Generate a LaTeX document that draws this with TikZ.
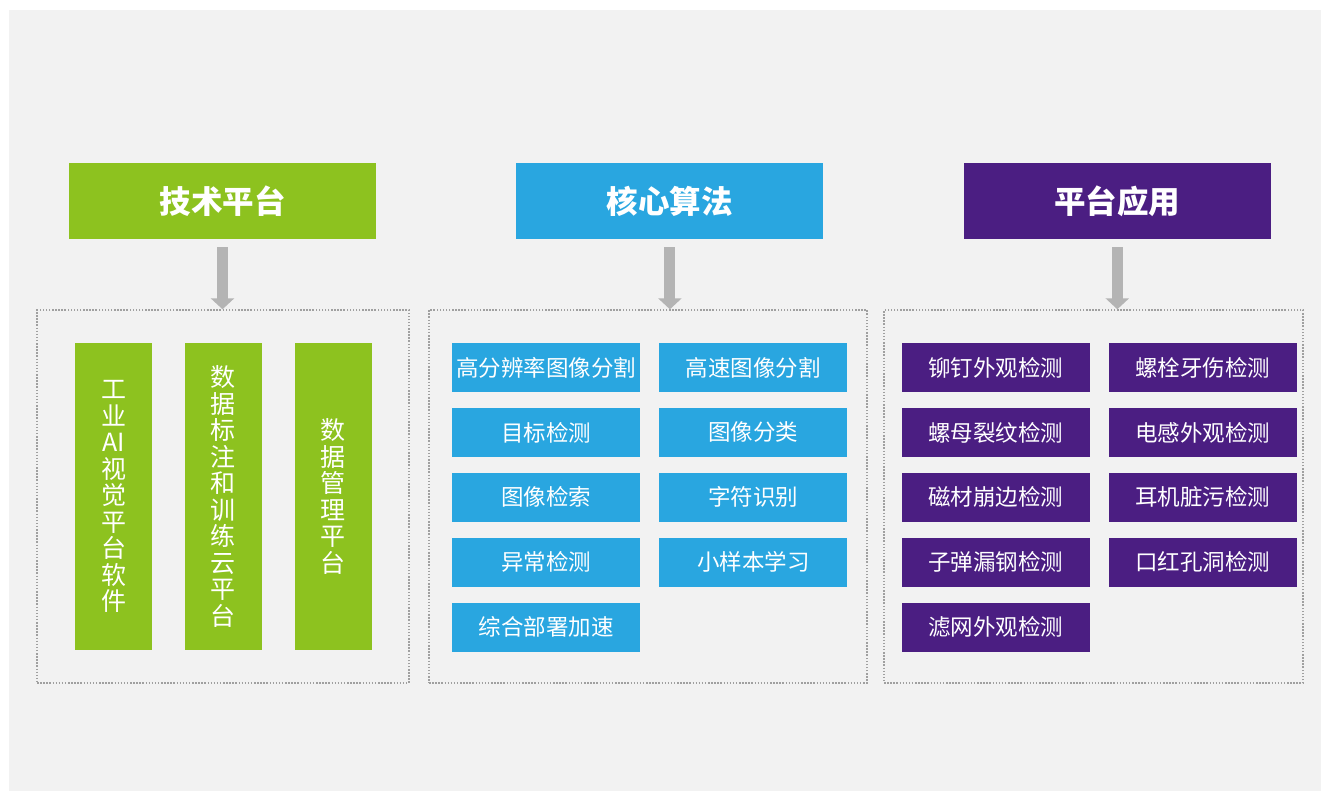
\documentclass[tikz,border=0pt]{standalone}
\usepackage{fontspec}
\setmainfont{Noto Sans CJK SC}
\usepackage{xcolor}
\usepackage{tikz}
\usetikzlibrary{
    arrows.meta,
    positioning
}
\definecolor{techgreen}{HTML}{8DC21F}
\definecolor{algoblue}{HTML}{29A6E0}
\definecolor{apppurple}{HTML}{4B1E82}
\definecolor{backgray}{HTML}{F2F2F2}
\definecolor{framegray}{HTML}{A0A0A0}
\definecolor{arrowgray}{HTML}{B4B4B4}
\tikzstyle{head} = [
    rectangle,
    minimum width=307pt,
    minimum height=76pt,
    inner sep=0pt,
    text centered,
    text=white,
    font=\fontsize{31.5}{36}\selectfont\bfseries
]
\tikzstyle{group} = [
    rectangle,
    draw=framegray,
    line width=1.4pt,
    dash pattern=on 1.5pt off 1.6pt,
    minimum height=373pt
]
\tikzstyle{arrow} = [
    draw=arrowgray,
    line width=11pt,
    -{Triangle[width=23pt,length=11pt]}
]

\begin{document}
\begin{tikzpicture}[
    x=1pt, y=1pt,
    node distance=15.5pt and 19pt,
    bar/.style={
        rectangle,
        fill=techgreen,
        minimum width=77pt,
        minimum height=307pt,
        inner sep=0pt,
        align=center,
        text=white,
        font=\fontsize{25}{26.5}\selectfont
    },
    item/.style={
        rectangle,
        minimum width=188pt,
        minimum height=49pt,
        inner sep=0pt,
        text centered,
        text=white,
        font=\fontsize{22.5}{26}\selectfont
    }
]
\useasboundingbox (0,0) rectangle (1321,791);
\fill[backgray] (9,0) rectangle (1321,781);

% Überschriften
\node[head, fill=techgreen] (tech) at (222.5,590) {技术平台};
\node[head, fill=algoblue, right=140pt of tech] (algo) {核心算法};
\node[head, fill=apppurple, right=140pt of algo] (app) {平台应用};

% Rahmen
\node[group, minimum width=372pt] (techbox) at (223,294.5) {};
\node[group, minimum width=438pt] (algobox) at (648,294.5) {};
\node[group, minimum width=419pt] (appbox) at (1093.5,294.5) {};

\draw[arrow] ([yshift=-8pt]tech.south) -- (tech.south |- techbox.north);
\draw[arrow] ([yshift=-8pt]algo.south) -- (algo.south |- algobox.north);
\draw[arrow] ([yshift=-8pt]app.south) -- (app.south |- appbox.north);

% Technische Plattform
\node[bar] (vision) at (113.5,294.5) {工\\业\\AI\\视\\觉\\平\\台\\软\\件};
\node[bar, right=32.5pt of vision] (annot) {数\\据\\标\\注\\和\\训\\练\\云\\平\\台};
\node[bar, right=32.5pt of annot] (datamgmt) {数\\据\\管\\理\\平\\台};

% Kernalgorithmen
\node[item, fill=algoblue] (hiseg) at (546,423.5) {高分辨率图像分割};
\node[item, fill=algoblue, right=of hiseg] (fastseg) {高速图像分割};
\node[item, fill=algoblue, below=of hiseg] (detect) {目标检测};
\node[item, fill=algoblue, right=of detect] (classify) {图像分类};
\node[item, fill=algoblue, below=of detect] (retrieve) {图像检索};
\node[item, fill=algoblue, right=of retrieve] (ocr) {字符识别};
\node[item, fill=algoblue, below=of retrieve] (anomaly) {异常检测};
\node[item, fill=algoblue, right=of anomaly] (fewshot) {小样本学习};
\node[item, fill=algoblue, below=of anomaly] (deploy) {综合部署加速};

% Anwendungen
\node[item, fill=apppurple] (rivet) at (995.5,423.5) {铆钉外观检测};
\node[item, fill=apppurple, right=of rivet] (bolt) {螺栓牙伤检测};
\node[item, fill=apppurple, below=of rivet] (nut) {螺母裂纹检测};
\node[item, fill=apppurple, right=of nut] (inductor) {电感外观检测};
\node[item, fill=apppurple, below=of nut] (magnet) {磁材崩边检测};
\node[item, fill=apppurple, right=of magnet] (earphone) {耳机脏污检测};
\node[item, fill=apppurple, below=of magnet] (bullet) {子弹漏钢检测};
\node[item, fill=apppurple, right=of bullet] (lipstick) {口红孔洞检测};
\node[item, fill=apppurple, below=of bullet] (filter) {滤网外观检测};

\end{tikzpicture}
\end{document}
